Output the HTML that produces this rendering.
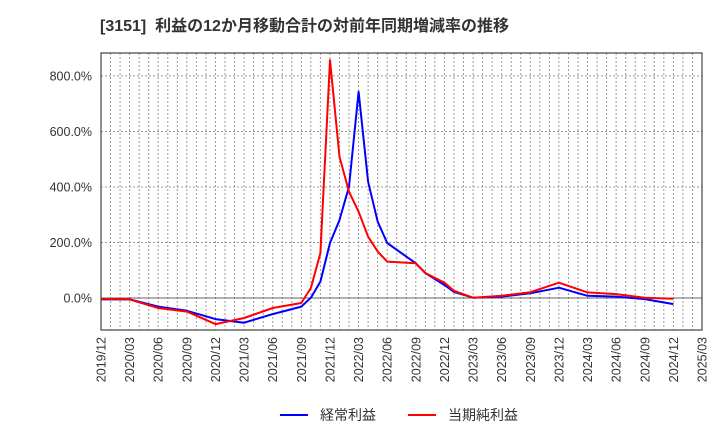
<!DOCTYPE html>
<html><head><meta charset="utf-8"><style>
body{margin:0;background:#fff;font-family:"Liberation Sans","Noto Sans CJK JP",sans-serif}
</style></head><body>
<svg id="c" width="720" height="440" xmlns="http://www.w3.org/2000/svg" font-family="Liberation Sans, Noto Sans CJK JP, sans-serif">
<text x="100" y="31" font-size="16" font-weight="bold" fill="#333" xml:space="preserve">[3151]  利益の12か月移動合計の対前年同期増減率の推移</text>
<g id="grid"></g><g id="lines"></g><g id="axes"></g>
<g>
<line x1="280" y1="415" x2="308" y2="415" stroke="#0000ff" stroke-width="2"/>
<text x="320" y="420" font-size="14" fill="#333">経常利益</text>
<line x1="408" y1="415" x2="436" y2="415" stroke="#ff0000" stroke-width="2"/>
<text x="448" y="420" font-size="14" fill="#333">当期純利益</text>
</g>
</svg>
<script>
const xTickLabels=["2019/12","2020/03","2020/06","2020/09","2020/12","2021/03","2021/06","2021/09","2021/12","2022/03","2022/06","2022/09","2022/12","2023/03","2023/06","2023/09","2023/12","2024/03","2024/06","2024/09","2024/12","2025/03"];
const yTicks=[0,200,400,600,800];
const blueMonths=[0,3,6,9,12,15,18,21,22,23,24,25,26,27,28,29,30,33,34,36,37,39,42,45,48,51,54,57,60];
const blueValues=[-5,-5,-31,-46,-76,-89,-58,-31,1,59,198,281,401,743,419,275,198,125,90,47,22,1,5,17,37,8,5,-4,-22];
const redMonths=[0,3,6,9,12,15,18,21,22,23,24,25,26,27,28,29,30,33,34,36,37,39,42,45,48,51,54,57,60];
const redValues=[-3,-5,-36,-49,-94,-72,-36,-18,36,162,857,509,383,311,221,167,131,125,90,55,26,1,8,21,55,20,14,1,-3];
const L=101,R=702,T=53,B=330,NM=63;
const xs=m=>L+m*(R-L)/NM;
const ys=v=>298-v*55.52/200;
const NS="http://www.w3.org/2000/svg";
const svg=document.getElementById('c');
function mk(tag,attrs,parent){const e=document.createElementNS(NS,tag);for(const k in attrs)e.setAttribute(k,attrs[k]);parent.appendChild(e);return e;}
const g=document.getElementById('grid');
for(let m=1;m<NM;m++){const e=mk('line',{x1:xs(m),x2:xs(m),y1:T,y2:B,stroke:'#999','stroke-width':1,'stroke-dasharray':'2,2'},g);

}
yTicks.forEach(v=>{const e=mk('line',{x1:L,x2:R,y1:ys(v),y2:ys(v),stroke:v===0?'#666':'#999','stroke-width':1,'stroke-dasharray':v===0?'':'2,2'},g);

});
const a=document.getElementById('axes');
const fr=mk('rect',{x:L,y:T,width:R-L,height:B-T,fill:'none',stroke:'#444','stroke-width':1.2},a);


yTicks.forEach(v=>{const t=mk('text',{x:92,y:ys(v)+4.5,'font-size':12.5,'text-anchor':'end',fill:'#333'},a);t.textContent=v.toFixed(1)+'%';

});
xTickLabels.forEach((s,i)=>{const x=xs(i*3);const t=mk('text',{x:0,y:0,'font-size':12.5,'text-anchor':'end',fill:'#333',transform:`translate(${x+4.5},337) rotate(-90)`},a);t.textContent=s;

});
const ln=document.getElementById('lines');
function series(ms,vs,col,name){const p=ms.map((m,i)=>xs(m).toFixed(1)+','+ys(vs[i]).toFixed(1)).join(' ');
const e=mk('polyline',{points:p,fill:'none',stroke:col,'stroke-width':2,'stroke-linejoin':'round'},ln);

}
series(blueMonths,blueValues,'#0000ff','series-keijo-rieki');
series(redMonths,redValues,'#ff0000','series-toki-junrieki');
</script>
</body></html>
